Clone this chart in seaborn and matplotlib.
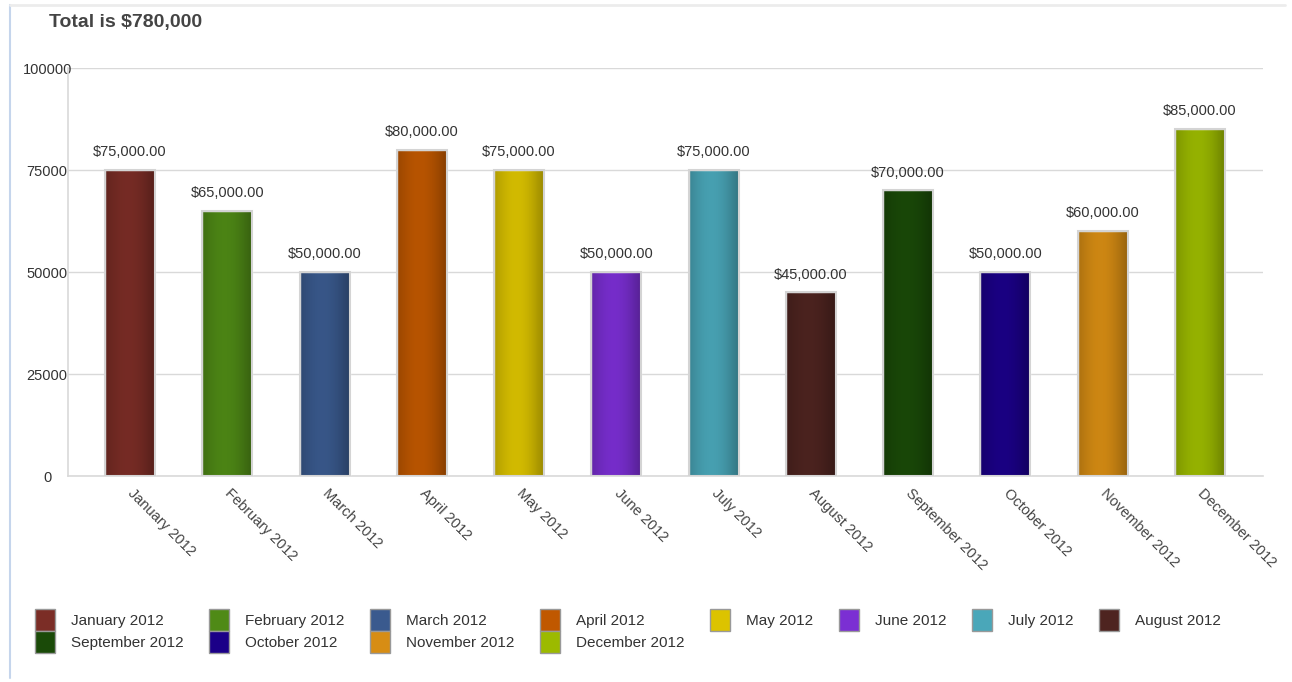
import numpy as np
import pandas as pd
import matplotlib.pyplot as plt
import seaborn as sns
from matplotlib.patches import Patch, Rectangle
from matplotlib.lines import Line2D

# chart data
months = ["January 2012", "February 2012", "March 2012", "April 2012",
          "May 2012", "June 2012", "July 2012", "August 2012",
          "September 2012", "October 2012", "November 2012", "December 2012"]
amounts = [75000, 65000, 50000, 80000, 75000, 50000,
           75000, 45000, 70000, 50000, 60000, 85000]
colors = ["#7b2d26", "#4f8a16", "#3a5a8e", "#c05800", "#dcc300", "#7b2fd3",
          "#4aa7b9", "#4e2420", "#1a4a08", "#1b0088", "#d78d14", "#9cba00"]
yticks = [0, 25000, 50000, 75000, 100000]
title = "Total is $780,000"

sns.set_theme(style="white")
plt.rcParams["font.family"] = ["Liberation Sans", "DejaVu Sans"]

df = pd.DataFrame({"month": months, "amount": amounts})

fig = plt.figure(figsize=(12.92, 6.82), dpi=100)
W, H = 1292, 682
ax = fig.add_axes([68 / W, 1 - 476 / H, (1263 - 68) / W, (476 - 68) / H])

sns.barplot(data=df, x="month", y="amount", hue="month", palette=colors,
            width=0.514, legend=False, ax=ax, saturation=1, zorder=3)

# shaded look on each bar plus light outline
shade = np.linspace(0, 1, 64)
alpha = 0.20 * (1 - np.sin(np.pi * shade)) + 0.10 * shade
img = np.zeros((1, 64, 4))
img[..., 3] = alpha
for p in list(ax.patches):
    x0, w, h = p.get_x(), p.get_width(), p.get_height()
    ax.imshow(img, extent=[x0, x0 + w, 0, h], aspect="auto", zorder=3.5,
              interpolation="bilinear")
    ax.add_patch(Rectangle((x0, 0), w, h, fill=False, edgecolor="#d4d4d4",
                           lw=1.5, zorder=4))
    ax.annotate(f"${h:,.2f}", (x0 + w / 2, h), xytext=(0, 10),
                textcoords="offset points", ha="center", va="baseline",
                fontsize=10.5, color="#333333")

ax.set_xlim(-0.637, 11.648)
ax.set_ylim(0, 100000)
ax.set_yticks(yticks)
ax.set_yticklabels([str(v) for v in yticks], fontsize=10.5, color="#333333")
for lab in ax.get_yticklabels():
    lab.set_horizontalalignment("center")
ax.tick_params(axis="y", length=0, pad=15)
ax.grid(axis="y", color="#d9d9d9", lw=1, zorder=0)
ax.set_axisbelow(True)

ax.set_xticks(range(len(months)))
ax.set_xticklabels(months, rotation=-45, ha="left", va="center",
                   rotation_mode="anchor", fontsize=10.5, color="#444444")
ax.tick_params(axis="x", length=0, pad=11)
ax.set_xlabel("")
ax.set_ylabel("")

for s in ["top", "right"]:
    ax.spines[s].set_visible(False)
for s in ["left", "bottom"]:
    ax.spines[s].set_color("#d9d9d9")
    ax.spines[s].set_linewidth(1.2)

fig.text(49 / W, 1 - 22 / H, title, fontsize=14, fontweight="bold",
         color="#444444", va="center", ha="left")

# legend filled row by row (8 per row)
handles = [Patch(facecolor=c, edgecolor="#999999", lw=1) for c in colors]
order = [0, 8, 1, 9, 2, 10, 3, 11, 4, 5, 6, 7]
fig.legend([handles[i] for i in order], [months[i] for i in order],
           loc="upper left", bbox_to_anchor=(35 / W, 1 - 609 / H),
           ncol=8, frameon=False, borderpad=0, borderaxespad=0,
           fontsize=11, handlelength=1.3, handleheight=1.85,
           handletextpad=1.05, columnspacing=1.68, labelspacing=0,
           labelcolor="#333333")

# outer frame lines
fig.add_artist(Line2D([10 / W, 10 / W], [1 - 5 / H, 1 - 678 / H],
                      color="#c5d5ec", lw=1.5))
fig.add_artist(Line2D([10 / W, 1285 / W], [1 - 5 / H, 1 - 5 / H],
                      color="#ececec", lw=2))

fig.savefig("out.png", dpi=100)
